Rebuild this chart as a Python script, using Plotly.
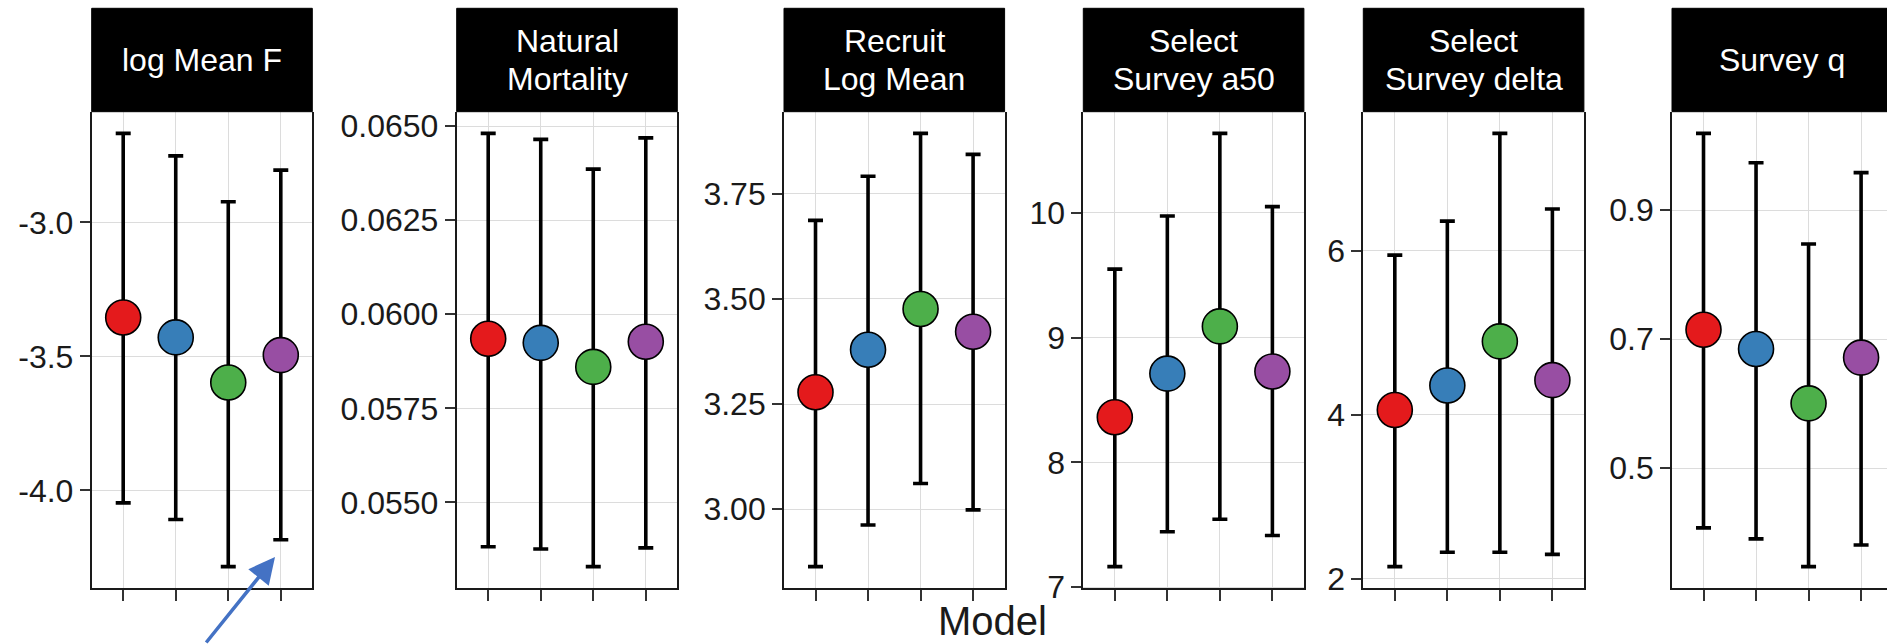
import plotly.graph_objects as go

W, H = 1887, 644

# ---------------- data ----------------
models = [1, 2, 3, 4]
model_colors = ["#E41A1C", "#377EB8", "#4DAF4A", "#984EA3"]

panel_titles = [["log Mean F"], ["Natural", "Mortality"], ["Recruit", "Log Mean"],
                ["Select", "Survey a50"], ["Select", "Survey delta"], ["Survey q"]]

logF_mean = [-3.355, -3.429, -3.597, -3.495]
logF_lower = [-4.046, -4.108, -4.284, -4.184]
logF_upper = [-2.668, -2.752, -2.923, -2.805]

M_mean = [0.05935, 0.05924, 0.05860, 0.05927]
M_lower = [0.05382, 0.05376, 0.05329, 0.05379]
M_upper = [0.06481, 0.06465, 0.06386, 0.06469]

R_mean = [3.278, 3.379, 3.476, 3.422]
R_lower = [2.863, 2.962, 3.061, 2.998]
R_upper = [3.687, 3.792, 3.894, 3.844]

A50_mean = [8.361, 8.711, 9.089, 8.728]
A50_lower = [7.164, 7.443, 7.544, 7.413]
A50_upper = [9.548, 9.974, 10.636, 10.049]

Delta_mean = [4.060, 4.359, 4.897, 4.424]
Delta_lower = [2.149, 2.324, 2.324, 2.299]
Delta_upper = [5.950, 6.364, 7.435, 6.513]

q_mean = [0.7146, 0.6848, 0.6006, 0.6715]
q_lower = [0.4076, 0.3905, 0.3475, 0.3810]
q_upper = [1.019, 0.9734, 0.8475, 0.9582]

tick_vals = [
    [-4.0, -3.5, -3.0],
    [0.0550, 0.0575, 0.0600, 0.0625, 0.0650],
    [3.00, 3.25, 3.50, 3.75],
    [7, 8, 9, 10],
    [2, 4, 6],
    [0.5, 0.7, 0.9],
]
tick_text = [
    ["-4.0", "-3.5", "-3.0"],
    ["0.0550", "0.0575", "0.0600", "0.0625", "0.0650"],
    ["3.00", "3.25", "3.50", "3.75"],
    ["7", "8", "9", "10"],
    ["2", "4", "6"],
    ["0.5", "0.7", "0.9"],
]
x_title = "Model"

series = [
    (logF_mean, logF_lower, logF_upper),
    (M_mean, M_lower, M_upper),
    (R_mean, R_lower, R_upper),
    (A50_mean, A50_lower, A50_upper),
    (Delta_mean, Delta_lower, Delta_upper),
    (q_mean, q_lower, q_upper),
]

# ---------------- layout geometry (pixels) ----------------
panel_left = [91.7, 456.7, 784.0, 1083.3, 1363.3, 1672.0]
panel_w = 220.6
strip_top, strip_bot, plot_bot = 8.3, 111.7, 588.3
FONT = "Liberation Sans, Arial, Helvetica, sans-serif"

def px_x(x):
    return x / W

def px_y(y):
    return 1 - y / H

fig = go.Figure()
layout = dict(
    template="none",
    width=W, height=H, autosize=False,
    margin=dict(l=0, r=0, t=0, b=0, pad=0, autoexpand=False),
    paper_bgcolor="white", plot_bgcolor="white",
    showlegend=False,
    font=dict(family=FONT, color="#1a1a1a"),
)
shapes, annotations = [], []

for i, ((mean, lo, up), title) in enumerate(zip(series, panel_titles)):
    n = i + 1
    xa = "x" if n == 1 else f"x{n}"
    ya = "y" if n == 1 else f"y{n}"
    left = panel_left[i]
    right = min(left + panel_w, W)
    last = (left + panel_w) > W
    xr_hi = 0.4 + 4.2 * (right - left) / panel_w

    lo_all, hi_all = min(lo), max(up)
    span = hi_all - lo_all
    yr = [lo_all - 0.05 * span, hi_all + 0.05 * span]

    for j in range(4):
        fig.add_trace(go.Scatter(
            x=[models[j]], y=[mean[j]], mode="markers",
            xaxis=xa, yaxis=ya,
            marker=dict(size=35, color=model_colors[j],
                        line=dict(color="black", width=1.6)),
            error_y=dict(type="data", symmetric=False,
                         array=[up[j] - mean[j]], arrayminus=[mean[j] - lo[j]],
                         color="black", thickness=3.6, width=7.5),
            hoverinfo="skip",
        ))

    layout["xaxis" if n == 1 else f"xaxis{n}"] = dict(
        domain=[px_x(left), px_x(right)], anchor=ya,
        range=[0.4, xr_hi], tickvals=models, showticklabels=False,
        ticks="outside", ticklen=11, tickwidth=1.5, tickcolor="#333",
        showgrid=True, gridcolor="#dcdcdc", gridwidth=1,
        showline=True, linecolor="#1a1a1a", linewidth=1.8, mirror=False,
        zeroline=False, fixedrange=True, automargin=False,
    )
    layout["yaxis" if n == 1 else f"yaxis{n}"] = dict(
        domain=[px_y(plot_bot), px_y(strip_bot)], anchor=xa,
        range=yr, tickvals=tick_vals[i], ticktext=tick_text[i],
        ticks="outside", ticklen=10, tickwidth=1.5, tickcolor="#333",
        tickfont=dict(size=32, family=FONT, color="#1a1a1a"),
        showgrid=True, gridcolor="#dcdcdc", gridwidth=1,
        showline=True, linecolor="#1a1a1a", linewidth=1.8,
        mirror=(not last), zeroline=False, fixedrange=True, automargin=False,
    )

    # strip
    shapes.append(dict(type="rect", xref="paper", yref="paper",
                       x0=px_x(left), x1=px_x(right),
                       y0=px_y(strip_bot), y1=px_y(strip_top),
                       fillcolor="black", line=dict(color="black", width=1),
                       layer="above"))
    cx = left + panel_w / 2
    if len(title) == 1:
        line_y = [(strip_top + strip_bot) / 2]
    else:
        line_y = [41.5, 78.5]
    for txt, ly in zip(title, line_y):
        annotations.append(dict(
            text=txt, xref="paper", yref="paper",
            x=px_x(cx), y=px_y(ly),
            xanchor="center", yanchor="middle", showarrow=False,
            font=dict(size=32, color="white", family=FONT)))

# x-axis title
annotations.append(dict(
    text=x_title, xref="paper", yref="paper",
    x=px_x(992), y=0, xanchor="center", yanchor="bottom", borderpad=0,
    showarrow=False, font=dict(size=40, color="#1a1a1a", family=FONT)))

# blue pointing arrow
annotations.append(dict(
    text="", xref="paper", yref="paper",
    x=px_x(275), y=px_y(557), showarrow=True,
    ax=-70, ay=90, axref="pixel", ayref="pixel",
    arrowcolor="#4472C4", arrowwidth=3.5, arrowhead=2, arrowsize=1.5))

layout["shapes"] = shapes
layout["annotations"] = annotations
fig.update_layout(**layout)
fig.write_html("out.html")
